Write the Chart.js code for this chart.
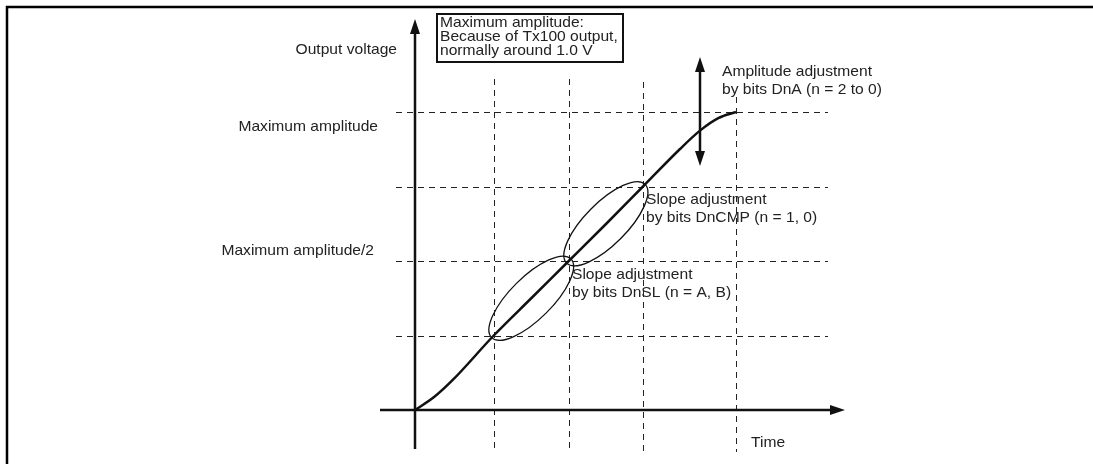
<!DOCTYPE html>
<html>
<head>
<meta charset="utf-8">
<script src="https://cdn.jsdelivr.net/npm/chart.js@4"></script>
<style>
  html, body { margin: 0; padding: 0; background: #fff; }
  canvas { display: block; }
</style>
</head>
<body>
<canvas id="chart" width="1093" height="464"></canvas>
<script>
// Output voltage vs time (arbitrary units, 1 unit = one grid cell)
const curveTime = [0, 0.25, 0.5, 1.05, 1.55, 2.05, 2.55, 3.04, 3.53, 3.8, 4.05, 4.28];
const curveVolt = [0, 0.17, 0.4, 1, 1.5, 2, 2.5, 3, 3.5, 3.75, 3.92, 4.0];

// dashed reference lines
const timeMarks = [1.05, 2.05, 3.04, 4.28];
const levelMarks = [1, 2, 3, 4];

// level labels (left of the y axis)
const levelLabels = ["Maximum amplitude/2", "Maximum amplitude"];
const levelLabelAt = [2, 4];

// slope adjustment ellipses: from / to points on the curve
const slopeFrom = [[1.05, 1], [2.05, 2]];
const slopeTo = [[2.05, 2], [3.04, 3]];

const FONT = "15px 'Liberation Sans', Arial, sans-serif";
const STRETCH = 1.04;

function arrowHead(ctx, x, y, dir) {
  ctx.beginPath();
  if (dir === "up") {
    ctx.moveTo(x, y); ctx.lineTo(x - 5, y + 15); ctx.lineTo(x + 5, y + 15);
  } else if (dir === "down") {
    ctx.moveTo(x, y); ctx.lineTo(x - 5, y - 15); ctx.lineTo(x + 5, y - 15);
  } else {
    ctx.moveTo(x, y); ctx.lineTo(x - 15, y - 5); ctx.lineTo(x - 15, y + 5);
  }
  ctx.closePath();
  ctx.fill();
}

function text(ctx, s, x, y) {
  ctx.save();
  ctx.translate(x, y);
  ctx.scale(STRETCH, 1);
  ctx.fillText(s, 0, 0);
  ctx.restore();
}

const diagram = {
  id: "diagram",
  beforeDatasetsDraw(chart) {
    const ctx = chart.ctx;
    const sx = chart.scales.x, sy = chart.scales.y;
    const x0 = sx.getPixelForValue(0), y0 = sy.getPixelForValue(0);
    ctx.save();

    // frame
    ctx.strokeStyle = "#000";
    ctx.lineWidth = 2.5;
    ctx.beginPath();
    ctx.moveTo(1093, 7); ctx.lineTo(7, 7); ctx.lineTo(7, 464);
    ctx.stroke();

    // dashed grid
    ctx.lineWidth = 1;
    ctx.strokeStyle = "#222";
    ctx.setLineDash([6, 5]);
    const vTops = [79, 79, 82, 97];
    timeMarks.forEach((t, i) => {
      const px = Math.round(sx.getPixelForValue(t)) + 0.5;
      ctx.beginPath();
      ctx.moveTo(px, vTops[i]);
      ctx.lineTo(px, 452);
      ctx.stroke();
    });
    levelMarks.forEach(v => {
      const py = Math.round(sy.getPixelForValue(v)) + 0.5;
      ctx.beginPath();
      ctx.moveTo(396, py);
      ctx.lineTo(828, py);
      ctx.stroke();
    });
    ctx.setLineDash([]);

    // axes
    ctx.strokeStyle = "#111";
    ctx.fillStyle = "#111";
    ctx.lineWidth = 2.5;
    ctx.beginPath();
    ctx.moveTo(x0, 449); ctx.lineTo(x0, 30);
    ctx.moveTo(380, y0); ctx.lineTo(832, y0);
    ctx.stroke();
    arrowHead(ctx, x0, 19, "up");
    arrowHead(ctx, 845, y0, "right");

    // amplitude double arrow
    const ax = 700;
    ctx.beginPath();
    ctx.moveTo(ax, 68); ctx.lineTo(ax, 155);
    ctx.stroke();
    arrowHead(ctx, ax, 57, "up");
    arrowHead(ctx, ax, 166, "down");

    // slope ellipses
    ctx.lineWidth = 1.3;
    slopeFrom.forEach((p, i) => {
      const ax1 = sx.getPixelForValue(p[0]), ay1 = sy.getPixelForValue(p[1]);
      const bx = sx.getPixelForValue(slopeTo[i][0]), by = sy.getPixelForValue(slopeTo[i][1]);
      const cx = (ax1 + bx) / 2, cy = (ay1 + by) / 2;
      const len = Math.hypot(bx - ax1, by - ay1) / 2;
      ctx.beginPath();
      ctx.ellipse(cx, cy, len + 3, 21, Math.atan2(by - ay1, bx - ax1), 0, Math.PI * 2);
      ctx.stroke();
    });
    ctx.restore();
  },
  afterDraw(chart) {
    const ctx = chart.ctx;
    const sy = chart.scales.y;
    ctx.save();
    ctx.font = FONT;
    ctx.fillStyle = "#222";
    ctx.textBaseline = "middle";

    ctx.textAlign = "right";
    text(ctx, "Output voltage", 397, 50);
    const offs = [-10, 15];
    levelLabels.forEach((s, i) => {
      text(ctx, s, i ? 378 : 374, sy.getPixelForValue(levelLabelAt[i]) + offs[i]);
    });

    ctx.textAlign = "left";
    // note box
    ctx.fillStyle = "#fff";
    ctx.fillRect(437, 14, 186, 48);
    ctx.strokeStyle = "#111";
    ctx.lineWidth = 2;
    ctx.strokeRect(437, 14, 186, 48);
    ctx.fillStyle = "#222";
    ["Maximum amplitude:", "Because of Tx100 output,", "normally around 1.0 V"]
      .forEach((s, i) => text(ctx, s, 440, 23 + i * 14));

    text(ctx, "Amplitude adjustment", 722, 72);
    text(ctx, "by bits DnA (n = 2 to 0)", 722, 90);
    text(ctx, "Slope adjustment", 646, 200);
    text(ctx, "by bits DnCMP (n = 1, 0)", 646, 218);
    text(ctx, "Slope adjustment", 572, 275);
    text(ctx, "by bits DnSL (n = A, B)", 572, 293);
    text(ctx, "Time", 751, 443);
    ctx.restore();
  }
};

new Chart(document.getElementById("chart"), {
  type: "line",
  data: {
    datasets: [{
      data: curveTime.map((t, i) => ({ x: t, y: curveVolt[i] })),
      borderColor: "#111",
      borderWidth: 2.5,
      pointRadius: 0,
      cubicInterpolationMode: "monotone",
      fill: false
    }]
  },
  options: {
    responsive: false,
    animation: false,
    devicePixelRatio: 1,
    layout: { padding: 0 },
    plugins: { legend: { display: false }, tooltip: { enabled: false } },
    scales: {
      x: { type: "linear", display: false, min: -415 / 75, max: (1093 - 415) / 75 },
      y: { type: "linear", display: false, min: -(464 - 410) / 74.5, max: 410 / 74.5 }
    }
  },
  plugins: [diagram]
});
</script>
</body>
</html>
